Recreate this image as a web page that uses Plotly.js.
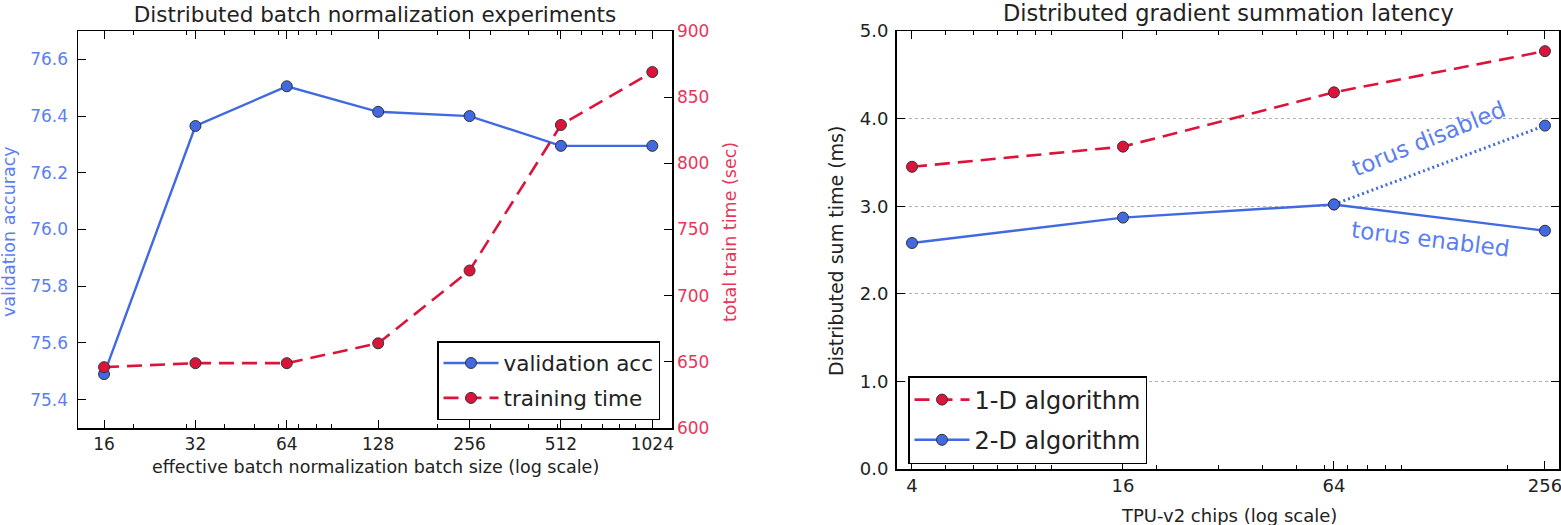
<!DOCTYPE html>
<html>
<head>
<meta charset="utf-8">
<script src="https://cdn.plot.ly/plotly-3.0.1.min.js"></script>
<style>html,body{margin:0;padding:0;background:#fff;}#chart{width:1561px;height:525px;}</style>
</head>
<body>
<div id="chart"></div>
<script>
// ---- Left chart data ----
const bnBatchSizes = [16, 32, 64, 128, 256, 512, 1024];
const bnTickLabels = ["16", "32", "64", "128", "256", "512", "1024"];
const validationAcc = [75.49, 76.365, 76.505, 76.415, 76.40, 76.295, 76.295];
const trainTimeSec = [646, 649, 649, 664, 719, 829, 869];

// ---- Right chart data ----
const tpuChips = [4, 16, 64, 256];
const tpuTickLabels = ["4", "16", "64", "256"];
const oneDAlgo = [3.45, 3.68, 4.30, 4.77];
const twoDAlgoTorusEnabled = [2.58, 2.87, 3.02, 2.72];
const torusDisabledChips = [64, 256];
const twoDAlgoTorusDisabled = [3.02, 3.92];

const minorLeft = [20,30,40,50,60,70,80,90,200,300,400,500,600,700,800,900];
const minorRight = [5,6,7,8,9,10,20,30,40,50,60,70,80,90,100,200];

const W = 1561, H = 525;
const px = v => v / W;
const py = v => 1 - v / H;

const BLUE = '#4169E1';
const BLUE_TXT = '#5b7ff0';
const RED = '#DC143C';
const RED_TXT = '#e8365a';
const FONT = 'DejaVu Sans, sans-serif';
const TXT = '#222';

const traces = [
  {
    x: bnBatchSizes, y: validationAcc, name: 'validation acc',
    xaxis: 'x', yaxis: 'y', mode: 'lines+markers', legend: 'legend', legendgroup: 'a',
    line: {color: BLUE, width: 2.4},
    marker: {color: BLUE, size: 11, line: {color: '#333', width: 1}}
  },
  {
    x: bnBatchSizes, y: trainTimeSec, name: 'training time',
    xaxis: 'x', yaxis: 'y2', mode: 'lines+markers', legend: 'legend', legendgroup: 'b',
    line: {color: RED, width: 2.6, dash: '15px,8px'},
    marker: {color: RED, size: 11, line: {color: '#333', width: 1}}
  },
  {
    x: tpuChips, y: oneDAlgo, name: '1-D algorithm',
    xaxis: 'x2', yaxis: 'y3', mode: 'lines+markers', legend: 'legend2', legendgroup: 'c',
    line: {color: RED, width: 2.6, dash: '15px,8px'},
    marker: {color: RED, size: 11, line: {color: '#333', width: 1}}
  },
  {
    x: torusDisabledChips, y: twoDAlgoTorusDisabled, name: 'torus disabled',
    xaxis: 'x2', yaxis: 'y3', mode: 'lines+markers', showlegend: false,
    line: {color: BLUE, width: 3, dash: '2px,3px'},
    marker: {color: BLUE, size: 11, line: {color: '#333', width: 1}}
  },
  {
    x: tpuChips, y: twoDAlgoTorusEnabled, name: '2-D algorithm',
    xaxis: 'x2', yaxis: 'y3', mode: 'lines+markers', legend: 'legend2', legendgroup: 'd',
    line: {color: BLUE, width: 2.4},
    marker: {color: BLUE, size: 11, line: {color: '#333', width: 1}}
  }
];

const common = {
  showline: true, linecolor: '#000', linewidth: 1.5,
  ticks: 'inside', ticklen: 8, tickwidth: 1, tickcolor: '#000',
  zeroline: false, showgrid: false, fixedrange: true, ticklabeloverflow: 'allow'
};

const layout = {
  width: W, height: H,
  margin: {l: 0, r: 0, t: 0, b: 0},
  paper_bgcolor: '#fff', plot_bgcolor: '#fff',
  font: {family: FONT, color: TXT},
  title: {
    text: 'Distributed batch normalization experiments',
    x: px(375), y: py(14), xref: 'paper', yref: 'paper',
    xanchor: 'center', yanchor: 'middle',
    font: {family: FONT, size: 21.5, color: TXT}
  },
  xaxis: Object.assign({}, common, {
    type: 'log', domain: [px(78), px(672)], anchor: 'y',
    range: [Math.log10(13.13), Math.log10(1189)],
    tickmode: 'array', tickvals: bnBatchSizes, ticktext: bnTickLabels,
    mirror: 'ticks', tickfont: {size: 17, color: TXT},
    minor: {tickmode: 'array', tickvals: minorLeft, ticks: 'inside', ticklen: 4, tickcolor: '#000', showgrid: false}
  }),
  yaxis: Object.assign({}, common, {
    domain: [py(428), py(31)], anchor: 'x',
    range: [75.3, 76.7], tickmode: 'linear', tick0: 75.4, dtick: 0.2,
    tickformat: '.1f', tickfont: {size: 17, color: BLUE_TXT}, ticklabelstandoff: 5
  }),
  yaxis2: Object.assign({}, common, {
    overlaying: 'y', side: 'right', anchor: 'x',
    range: [600, 900], tickmode: 'linear', tick0: 600, dtick: 50,
    tickfont: {size: 17, color: RED_TXT}
  }),
  xaxis2: Object.assign({}, common, {
    type: 'log', domain: [px(896.5), px(1559)], anchor: 'y3',
    range: [Math.log10(3.613), Math.log10(280.7)],
    tickmode: 'array', tickvals: tpuChips, ticktext: tpuTickLabels,
    mirror: 'ticks', tickfont: {size: 18, color: TXT},
    minor: {tickmode: 'array', tickvals: minorRight, ticks: 'inside', ticklen: 4, tickcolor: '#000', showgrid: false}
  }),
  yaxis3: Object.assign({}, common, {
    domain: [py(469), py(31)], anchor: 'x2',
    range: [0, 5], tickmode: 'linear', tick0: 0, dtick: 1,
    tickformat: '.1f', mirror: 'ticks', tickfont: {size: 18, color: TXT}, ticklabelstandoff: 3,
    showgrid: true, gridcolor: '#b0b0b0', griddash: 'dot', gridwidth: 1
  }),
  legend: {
    x: px(437), y: py(341), xanchor: 'left', yanchor: 'top',
    bgcolor: '#fff', bordercolor: '#000', borderwidth: 1.5,
    font: {family: FONT, size: 21.5, color: TXT}, itemwidth: 55,
    tracegroupgap: 4, traceorder: 'grouped'
  },
  legend2: {
    x: px(908), y: py(376), xanchor: 'left', yanchor: 'top',
    bgcolor: '#fff', bordercolor: '#000', borderwidth: 1.5,
    font: {family: FONT, size: 24, color: TXT}, itemwidth: 55,
    tracegroupgap: 6, traceorder: 'grouped'
  },
  annotations: [
    {text: 'Distributed gradient summation latency', xref: 'paper', yref: 'paper',
     x: px(1228), y: py(13), showarrow: false, xanchor: 'center', yanchor: 'middle',
     font: {family: FONT, size: 22.5, color: TXT}},
    {text: 'validation accuracy', xref: 'paper', yref: 'paper',
     x: px(9), y: py(232), showarrow: false, textangle: -90, xanchor: 'center', yanchor: 'middle',
     font: {family: FONT, size: 17.5, color: BLUE_TXT}},
    {text: 'total train time (sec)', xref: 'paper', yref: 'paper',
     x: px(730), y: py(232), showarrow: false, textangle: -90, xanchor: 'center', yanchor: 'middle',
     font: {family: FONT, size: 17.5, color: RED_TXT}},
    {text: 'effective batch normalization batch size (log scale)', xref: 'paper', yref: 'paper',
     x: px(375), y: py(467), showarrow: false, xanchor: 'center', yanchor: 'middle',
     font: {family: FONT, size: 17.5, color: TXT}},
    {text: 'Distributed sum time (ms)', xref: 'paper', yref: 'paper',
     x: px(836), y: py(251), showarrow: false, textangle: -90, xanchor: 'center', yanchor: 'middle',
     font: {family: FONT, size: 19, color: TXT}},
    {text: 'TPU-v2 chips (log scale)', xref: 'paper', yref: 'paper',
     x: px(1229), y: py(515), showarrow: false, xanchor: 'center', yanchor: 'middle',
     font: {family: FONT, size: 18, color: TXT}},
    {text: 'torus disabled', xref: 'paper', yref: 'paper',
     x: px(1428), y: py(139), showarrow: false, textangle: -22, xanchor: 'center', yanchor: 'middle',
     font: {family: FONT, size: 23, color: BLUE_TXT}},
    {text: 'torus enabled', xref: 'paper', yref: 'paper',
     x: px(1430), y: py(239), showarrow: false, textangle: 7, xanchor: 'center', yanchor: 'middle',
     font: {family: FONT, size: 23, color: BLUE_TXT}}
  ]
};

Plotly.newPlot('chart', traces, layout, {staticPlot: true, displayModeBar: false});
</script>
</body>
</html>
